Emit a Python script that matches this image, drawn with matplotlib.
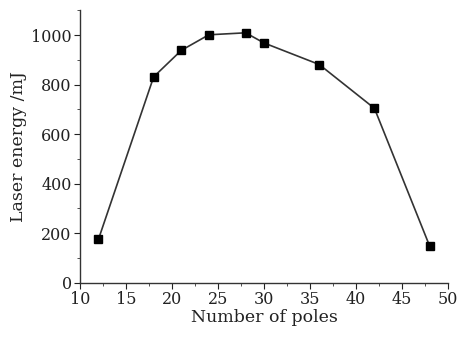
import matplotlib
matplotlib.use("Agg")
import matplotlib.pyplot as plt
from matplotlib.ticker import MultipleLocator

poles = [12, 18, 21, 24, 28, 30, 36, 42, 48]
energy = [175, 831, 938, 1001, 1009, 968, 881, 704, 148]

plt.rcParams['font.family'] = ['DejaVu Serif']
fig = plt.figure(figsize=(4.6, 3.38), dpi=100)
ax = fig.add_axes([0.174, 0.1636, 0.80, 0.806])
ax.plot(poles, energy, color='#333333', lw=1.2, marker='s', markersize=5.5,
        markerfacecolor='black', markeredgecolor='black')
ax.set_xlim(10, 50)
ax.set_ylim(0, 1100)
ax.xaxis.set_major_locator(MultipleLocator(5))
ax.xaxis.set_minor_locator(MultipleLocator(2.5))
ax.yaxis.set_major_locator(MultipleLocator(200))
ax.yaxis.set_minor_locator(MultipleLocator(100))
for s in ['top', 'right']:
    ax.spines[s].set_visible(False)
for s in ['left', 'bottom']:
    ax.spines[s].set_color('#333333')
    ax.spines[s].set_linewidth(1.0)
ax.tick_params(which='major', direction='out', length=4, labelsize=11.5, colors='#222222', pad=2)
ax.tick_params(which='minor', direction='out', length=2.5, colors='#333333')
ax.set_xlabel('Number of poles', fontsize=12.5, labelpad=1, color='#222222')
ax.set_ylabel('Laser energy /mJ', fontsize=12.5, labelpad=3, color='#222222')
fig.savefig('out.png', dpi=100)
